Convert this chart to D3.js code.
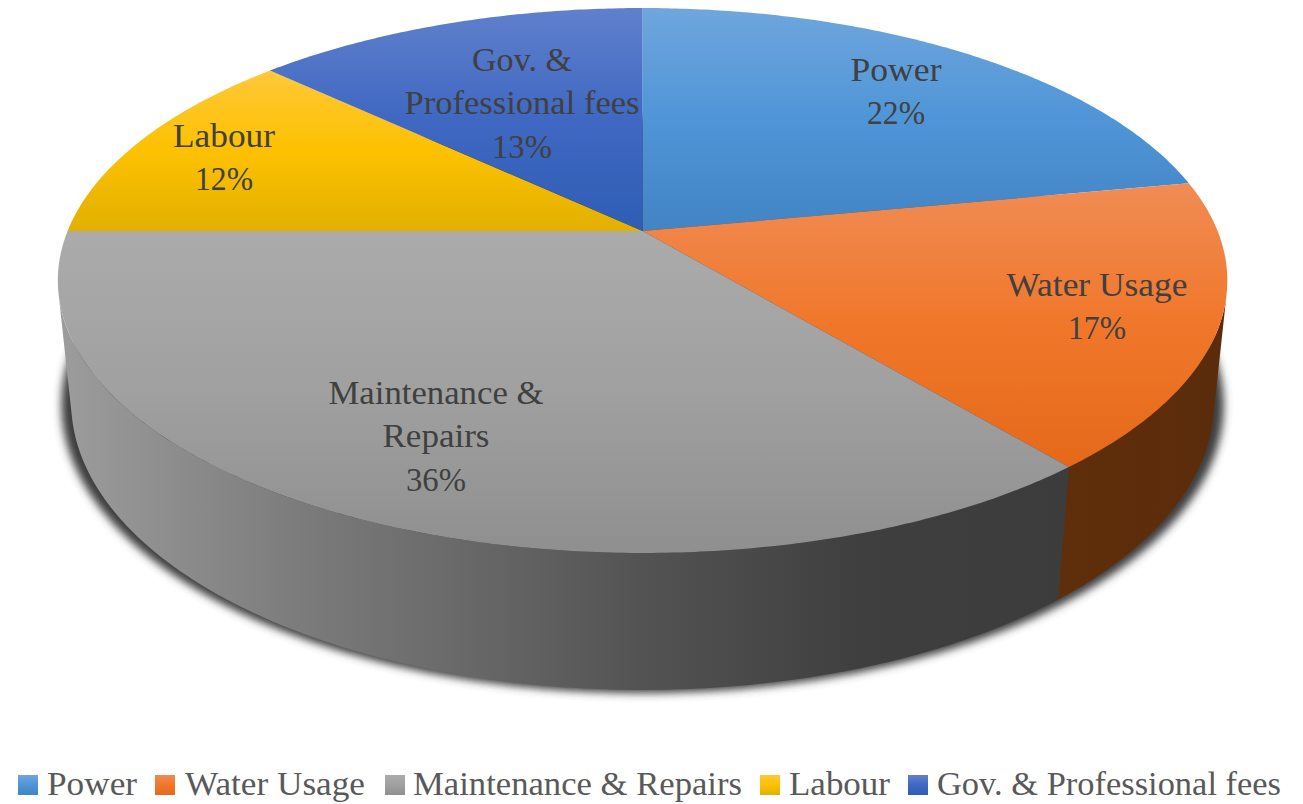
<!DOCTYPE html>
<html>
<head>
<meta charset="utf-8">
<script src="https://cdn.jsdelivr.net/npm/d3@7"></script>
<style>
html, body { margin: 0; padding: 0; background: #fff; }
</style>
</head>
<body>
<div id="chart"></div>
<script>
// values
const categories = ["Power", "Water Usage", "Maintenance & Repairs", "Labour", "Gov. & Professional fees"];
const shares = [22, 17, 36, 12, 13];
const labelLines = [["Power"], ["Water Usage"], ["Maintenance &", "Repairs"], ["Labour"], ["Gov. &", "Professional fees"]];

// slice colours: top, middle, bottom of the gradient
const topColors = [
  ["#6fa6dd", "#4f95d7", "#4284c4"],
  ["#f08c55", "#f0772a", "#e5691a"],
  ["#ababab", "#a0a0a0", "#8f8f8f"],
  ["#ffc83a", "#fdc100", "#e2b000"],
  ["#6080cc", "#3f68c2", "#2f5db4"]
];

const width = 1303, height = 804;
const fontName = "'Liberation Serif', serif";

// perspective disc: cx, apex y, x radius, y radius, perspective
const cx = 642.6, apexY = 231, rx = 575, ry = 221.5, persp = -0.1817;
// how far down the lower rim sits
const dropY = 127.6, dropW = 0.0225;

function project(theta, r, down) {
  var u = r * Math.sin(theta), v = -r * Math.cos(theta);
  var w = 1 + persp * v + (down ? dropW : 0);
  return [cx + rx * u / w, (apexY + ry * v + (down ? dropY : 0)) / w];
}

function arcPoints(a0, a1, down) {
  var n = Math.max(2, Math.ceil((a1 - a0) / 0.01));
  return d3.range(n + 1).map(function (i) {
    return project(a0 + (a1 - a0) * i / n, 1, down);
  });
}

const line = d3.line();
const slices = d3.pie().sort(null).value(function (d) { return d; })(shares);

var svg = d3.select("#chart")
  .append("svg")
  .attr("width", width)
  .attr("height", height)
  .style("display", "block");

var defs = svg.append("defs");

topColors.forEach(function (c, i) {
  var g = defs.append("linearGradient")
    .attr("id", "top" + i)
    .attr("x1", 0).attr("y1", 0).attr("x2", 0).attr("y2", 1);
  g.append("stop").attr("offset", "0%").attr("stop-color", c[0]);
  g.append("stop").attr("offset", "50%").attr("stop-color", c[1]);
  g.append("stop").attr("offset", "100%").attr("stop-color", c[2]);
});

// side wall shading runs left to right
var wallMaint = defs.append("linearGradient")
  .attr("id", "wall2")
  .attr("gradientUnits", "userSpaceOnUse")
  .attr("x1", 62).attr("y1", 0).attr("x2", 1060).attr("y2", 0);
[[0, "#9c9c9c"], [0.25, "#7a7a7a"], [0.4, "#696969"], [0.58, "#535353"], [0.8, "#3f3f3f"], [1, "#3c3c3c"]]
  .forEach(function (s) {
    wallMaint.append("stop").attr("offset", s[0]).attr("stop-color", s[1]);
  });

var wallWater = defs.append("linearGradient")
  .attr("id", "wall1")
  .attr("gradientUnits", "userSpaceOnUse")
  .attr("x1", 1060).attr("y1", 0).attr("x2", 1226).attr("y2", 0);
wallWater.append("stop").attr("offset", 0).attr("stop-color", "#5f2e0a");
wallWater.append("stop").attr("offset", 1).attr("stop-color", "#5b2c0c");

var blur = defs.append("filter")
  .attr("id", "soft")
  .attr("x", "-5%").attr("y", "-5%").attr("width", "110%").attr("height", "110%");
blur.append("feGaussianBlur").attr("stdDeviation", 4);

// shadow under the lower rim
svg.append("path")
  .attr("d", line(arcPoints(0, 2 * Math.PI, true).map(function (p) {
    return [cx + (p[0] - cx) * 1.017, p[1] + 3];
  })) + "Z")
  .attr("fill", "#3c3c3c")
  .attr("filter", "url(#soft)");

// side walls, only the part facing the viewer (stops at the silhouette,
// going further folds the outline and leaves a hole)
const frontFrom = 103 * Math.PI / 180, frontTo = 257 * Math.PI / 180;
slices.forEach(function (s, i) {
  var a0 = Math.max(s.startAngle, frontFrom), a1 = Math.min(s.endAngle, frontTo);
  if (a1 <= a0) return;
  var pts = arcPoints(a0, a1, false).concat(arcPoints(a0, a1, true).reverse());
  svg.append("path")
    .attr("d", line(pts) + "Z")
    .attr("fill", "url(#wall" + i + ")");
});

// top faces
svg.append("g").selectAll("path")
  .data(slices)
  .enter()
  .append("path")
  .attr("d", function (s) {
    return line([[cx, apexY]].concat(arcPoints(s.startAngle, s.endAngle, false))) + "Z";
  })
  .attr("fill", function (s, i) { return "url(#top" + i + ")"; });

// data labels: centre x, first baseline, drawn widths
const labelAt = [[896, 81], [1097, 296], [436, 404], [224, 147], [522, 71]];
const labelWidths = [[91, 58], [181, 58], [215, 107, 60], [102, 58], [100, 235, 60]];
const lineStep = 43.4;

labelLines.forEach(function (lines, i) {
  var rows = lines.concat([shares[i] + "%"]);
  svg.append("g").selectAll("text")
    .data(rows)
    .enter()
    .append("text")
    .attr("x", labelAt[i][0])
    .attr("y", function (d, k) { return labelAt[i][1] + k * lineStep; })
    .attr("text-anchor", "middle")
    .attr("textLength", function (d, k) { return labelWidths[i][k]; })
    .attr("lengthAdjust", "spacingAndGlyphs")
    .style("font-family", fontName)
    .style("font-size", "34px")
    .style("fill", "#404040")
    .text(function (d) { return d; });
});

// legend
const legendBoxX = [18, 155, 385, 760, 908];
const legendTextX = [47, 185, 413, 789, 937];
const legendWidths = [90, 180, 329, 101, 344];

var legend = svg.append("g").selectAll("g")
  .data(categories)
  .enter()
  .append("g");

legend.append("rect")
  .attr("x", function (d, i) { return legendBoxX[i]; })
  .attr("y", 775)
  .attr("width", 20)
  .attr("height", 20)
  .attr("fill", function (d, i) { return "url(#top" + i + ")"; });

legend.append("text")
  .attr("x", function (d, i) { return legendTextX[i]; })
  .attr("y", 795)
  .attr("textLength", function (d, i) { return legendWidths[i]; })
  .attr("lengthAdjust", "spacingAndGlyphs")
  .style("font-family", fontName)
  .style("font-size", "34px")
  .style("fill", "#595959")
  .text(function (d) { return d; });
</script>
</body>
</html>
